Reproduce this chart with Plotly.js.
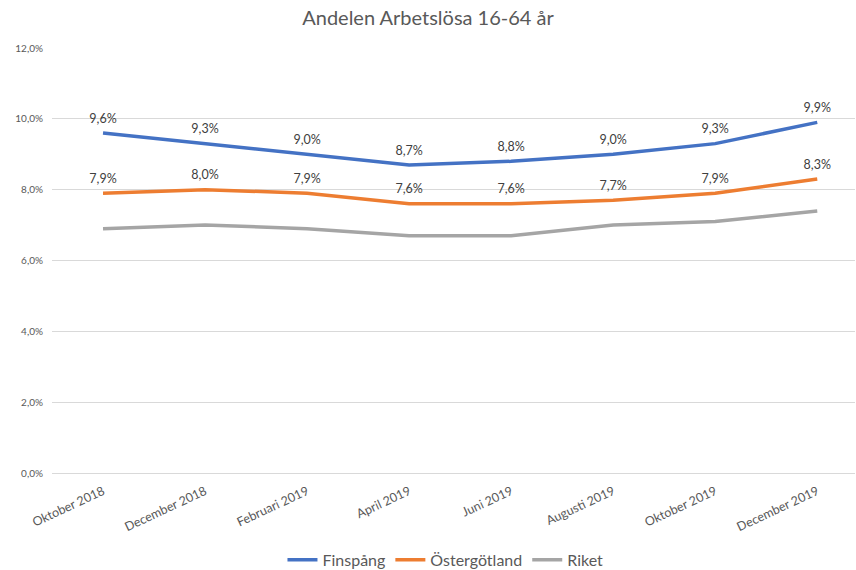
<!DOCTYPE html>
<html>
<head>
<meta charset="utf-8">
<script src="https://cdn.plot.ly/plotly-3.0.1.min.js"></script>
<style>html,body{margin:0;padding:0;background:#fff;}#chart{width:856px;height:570px;}</style>
</head>
<body>
<div id="chart"></div>
<script>
const categories = ["Oktober 2018","December 2018","Februari 2019","April 2019","Juni 2019","Augusti 2019","Oktober 2019","December 2019"];
const finspang = [9.6, 9.3, 9.0, 8.7, 8.8, 9.0, 9.3, 9.9];
const ostergotland = [7.9, 8.0, 7.9, 7.6, 7.6, 7.7, 7.9, 8.3];
const riket = [6.9, 7.0, 6.9, 6.7, 6.7, 7.0, 7.1, 7.4];
const yTicks = [0, 2, 4, 6, 8, 10, 12];

const FONT = "Lato, 'Open Sans', sans-serif";
const idx = categories.map((c, i) => i);

function series(name, y, color, labels) {
  return {
    type: 'scatter',
    mode: labels ? 'lines+markers+text' : 'lines',
    name: name,
    x: idx,
    y: y,
    line: {color: color, width: 3.5},
    marker: {size: 10, color: 'rgba(0,0,0,0)'},
    text: labels ? y.map(v => v.toFixed(1).replace('.', ',') + '%') : undefined,
    textposition: 'top center',
    textfont: {family: FONT, size: 12.5, color: '#404040'},
    hoverinfo: 'skip',
    cliponaxis: false
  };
}

const data = [
  series('Finspång', finspang, '#4472C4', true),
  series('Östergötland', ostergotland, '#ED7D31', true),
  series('Riket', riket, '#A5A5A5', false)
];

const layout = {
  width: 856, height: 570,
  margin: {l: 52, r: 1, t: 48, b: 97},
  paper_bgcolor: '#fff', plot_bgcolor: '#fff',
  separators: ', ',
  font: {family: FONT, color: '#595959'},
  title: {text: 'Andelen Arbetslösa 16-64 år', font: {family: FONT, size: 20, color: '#595959'}, x: 0.5, xanchor: 'center', y: 0.968, yanchor: 'middle'},
  xaxis: {
    range: [-0.5, 7.37],
    automargin: false,
    tickmode: 'array', tickvals: idx, ticktext: categories,
    tickangle: -25,
    tickfont: {family: FONT, size: 12.5, color: '#595959'},
    ticklabelstandoff: 8,
    showgrid: false, zeroline: false, showline: false, ticks: '',
    fixedrange: true
  },
  yaxis: {
    range: [0, 12],
    automargin: false,
    tickmode: 'array', tickvals: yTicks,
    ticktext: yTicks.map(v => v.toFixed(1).replace('.', ',') + '%'),
    tickfont: {family: FONT, size: 10, color: '#595959'},
    gridcolor: '#D9D9D9', gridwidth: 1,
    zeroline: true, zerolinecolor: '#D9D9D9', zerolinewidth: 1,
    showline: false, ticks: '', ticklabelstandoff: 8,
    fixedrange: true
  },
  showlegend: true,
  legend: {
    orientation: 'h', x: 0.49, xanchor: 'center',
    yref: 'container', y: 0.018, yanchor: 'middle',
    font: {family: FONT, size: 16, color: '#595959'},
    itemwidth: 30, tracegroupgap: 0
  }
};

Plotly.newPlot('chart', data, layout, {displayModeBar: false, staticPlot: true});
</script>
</body>
</html>
